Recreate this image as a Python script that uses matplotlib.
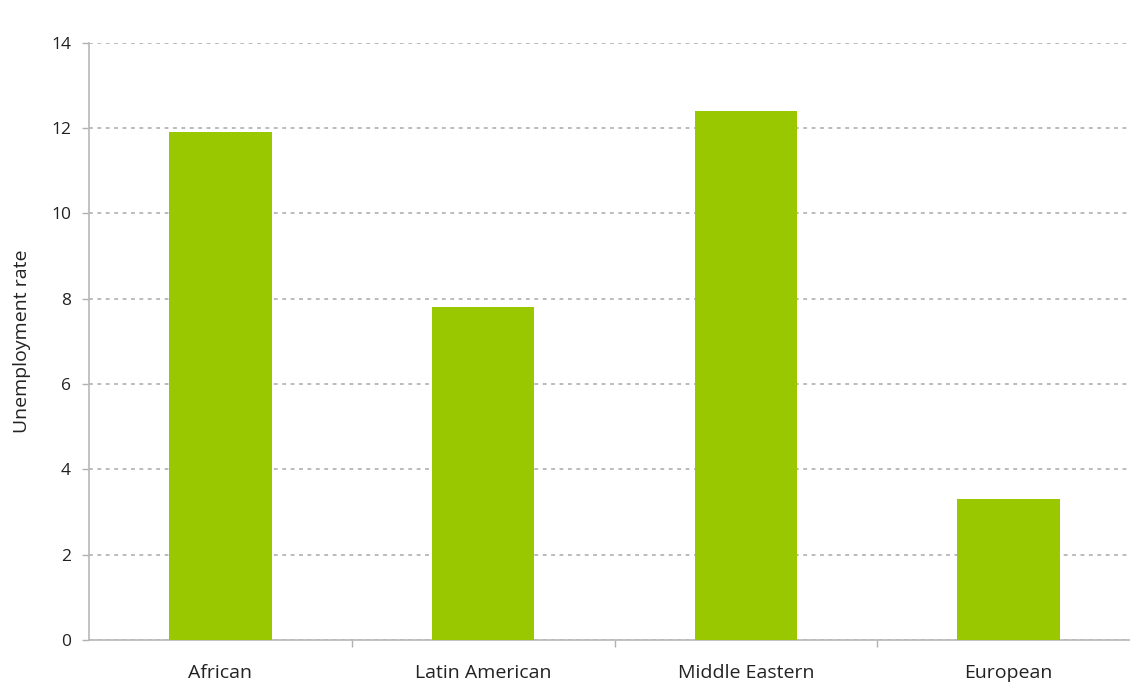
import matplotlib
matplotlib.use("Agg")
import matplotlib.pyplot as plt

categories = ["African", "Latin American", "Middle Eastern", "European"]
unemployment = [11.9, 7.8, 12.4, 3.3]
y_ticks = [0, 2, 4, 6, 8, 10, 12, 14]

plt.rcParams["font.family"] = ["Open Sans", "DejaVu Sans"]

fig = plt.figure(figsize=(11.3, 6.84), dpi=100)
ax = fig.add_axes([89 / 1130, 44 / 684, (1140 - 89) / 1130, (640.5 - 43.3) / 684])

x = range(len(categories))
ax.bar(x, unemployment, width=0.39, color="#99c800", zorder=3)

ax.set_xlim(-0.5, len(categories) - 0.5)
ax.set_ylim(0, 14)
ax.set_yticks(y_ticks)
ax.set_xticks(list(x))
ax.set_xticklabels(categories, fontsize=14, color="#222222")
ax.set_xticks([i + 0.5 for i in range(len(categories) - 1)], minor=True)
ax.tick_params(axis="x", which="major", length=0, pad=17)
ax.tick_params(axis="x", which="minor", length=5, color="#b0b0b0", width=1)
ax.tick_params(axis="y", length=5, color="#b0b0b0", width=1, labelsize=12.5,
               labelcolor="#222222", pad=8)

ax.yaxis.grid(True, linestyle=(0, (2.5, 3)), color="#a8a8a8", linewidth=1.1, zorder=0)
for side in ("top", "right"):
    ax.spines[side].set_visible(False)
for side in ("left", "bottom"):
    ax.spines[side].set_color("#b8b8b8")
    ax.spines[side].set_linewidth(1.2)

ax.set_ylabel("Unemployment rate", fontsize=14, color="#222222", labelpad=14)

fig.savefig("out.png", dpi=100)
